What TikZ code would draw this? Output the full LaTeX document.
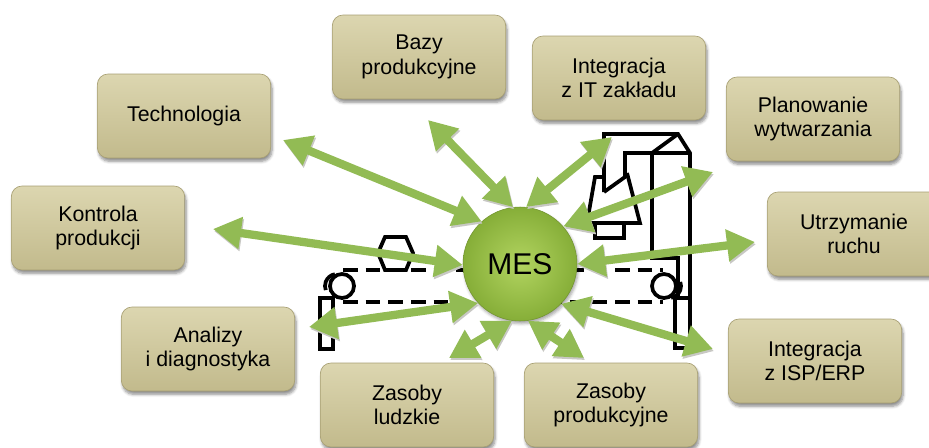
\documentclass[tikz,border=0pt]{standalone}
\usepackage{fontspec}
\setmainfont{Liberation Sans}
\usetikzlibrary{arrows.meta,shadows.blur}
\definecolor{boxtop}{RGB}{220,214,176}
\definecolor{boxbot}{RGB}{194,186,140}
\definecolor{boxedge}{RGB}{168,160,116}
\definecolor{arrowgreen}{RGB}{146,187,84}
\definecolor{arrowshade}{RGB}{200,200,196}
\definecolor{mesin}{RGB}{178,212,96}
\definecolor{mesout}{RGB}{134,174,56}
\begin{document}
\begin{tikzpicture}[x=0.75pt,y=-0.75pt,
  box/.style={rectangle, rounded corners=8pt, minimum width=130pt, minimum height=63pt,
    align=center, draw=boxedge, line width=0.5pt, top color=boxtop, bottom color=boxbot,
    font=\fontsize{16}{18.5}\selectfont,
    blur shadow={shadow xshift=1pt, shadow yshift=-2.5pt, shadow blur steps=6, shadow opacity=45}},
  machine/.style={line width=2.8pt, black, line join=miter},
  belt/.style={machine, dash pattern=on 11pt off 6pt},
  linktip/.style={{Triangle[length=21pt,width=23pt]}-{Triangle[length=21pt,width=23pt]}},
  link/.style={line width=6.2pt, arrowgreen, linktip,
    preaction={draw=arrowshade, transform canvas={shift={(0.8pt,-1.6pt)}}}},
]
\useasboundingbox (0,0) rectangle (929,447);

% ---- background: conveyor with a machine tool ----
% belt
\draw[belt] (343,270) -- (663,270);
\draw[belt] (343,302) -- (663,302);
% rollers
\draw[machine] (342,286) circle[radius=9pt];
\draw[machine] (337,286) ++(100:9pt) arc[start angle=100, end angle=200, radius=9pt];
\draw[machine] (664,286) circle[radius=9pt];
\draw[machine] (669,286) ++(-80:9pt) arc[start angle=-80, end angle=20, radius=9pt];
% workpiece on the belt
\draw[machine] (385,237) -- (406,237) -- (413,253) -- (406,270) -- (385,270) -- (378,253) -- cycle;
% left support
\draw[machine] (320,298) rectangle (333,349);
% machine frame and column
\draw[machine] (604,192) -- (604,134) -- (678,134) -- (690,153) -- (690,348);
\draw[machine] (678,134) -- (652,153) -- (690,153);
\draw[machine] (652,153) -- (652,258) -- (678,258) -- (678,298);
\draw[machine] (675,298) rectangle (690,348);
\draw[machine] (604,192) -- (625,177) -- (625,153) -- (652,153);
% tool head
\draw[machine] (604,177) -- (595,177) -- (587,223) -- (640,223) -- (627,173);
\draw[machine] (595,223) rectangle (624,238);

% ---- central node ----
\node[circle, minimum size=85.5pt, inner color=mesin, outer color=mesout,
  draw=mesout!85!black, line width=0.4pt, font=\fontsize{22.5}{26}\selectfont,
  blur shadow={shadow xshift=1pt, shadow yshift=-2pt, shadow opacity=35}] (mes) at (520,264) {MES};

% ---- surrounding nodes ----
\node[box] (tech) at (184,116) {Technologia};
\node[box] (bazy) at (419,57) {Bazy\\produkcyjne};
\node[box] (itz)  at (619,78) {Integracja\\z IT zakładu};
\node[box] (plan) at (813,119) {Planowanie\\wytwarzania};
\node[box] (kontr) at (98,228) {Kontrola\\produkcji};
\node[box] (utrz) at (854,234) {Utrzymanie\\ruchu};
\node[box] (anal) at (208,349) {Analizy\\i diagnostyka};
\node[box] (isp)  at (815,361) {Integracja\\z ISP/ERP};
\node[box] (zasl) at (407,405) {Zasoby\\ludzkie};
\node[box] (zasp) at (611,405) {Zasoby\\produkcyjne};

% ---- free ends of the connectors ----
\coordinate (eTech) at (283,140);
\coordinate (eBazy) at (428,120);
\coordinate (eItz)  at (612,137);
\coordinate (ePlan) at (713,172);
\coordinate (eKontr) at (213,229);
\coordinate (eUtrz) at (755,242);
\coordinate (eAnal) at (309,327);
\coordinate (eZasl) at (449,358);
\coordinate (eZasp) at (584,358);
\coordinate (eIsp)  at (713,349);

% ---- connectors ----
\draw[link] (eTech) -- (mes.132);
\draw[link] (eBazy) -- (mes.97);
\draw[link] (eItz) -- (mes.84);
\draw[link] (ePlan) -- (mes.41);
\draw[link] (eKontr) -- (mes.181);
\draw[link] (eUtrz) -- (mes.0);
\draw[link] (eAnal) -- (mes.223);
\draw[link] (eZasl) -- (mes.262);
\draw[link] (eZasp) -- (mes.278);
\draw[link] (eIsp) -- (mes.316);
\end{tikzpicture}
\end{document}
